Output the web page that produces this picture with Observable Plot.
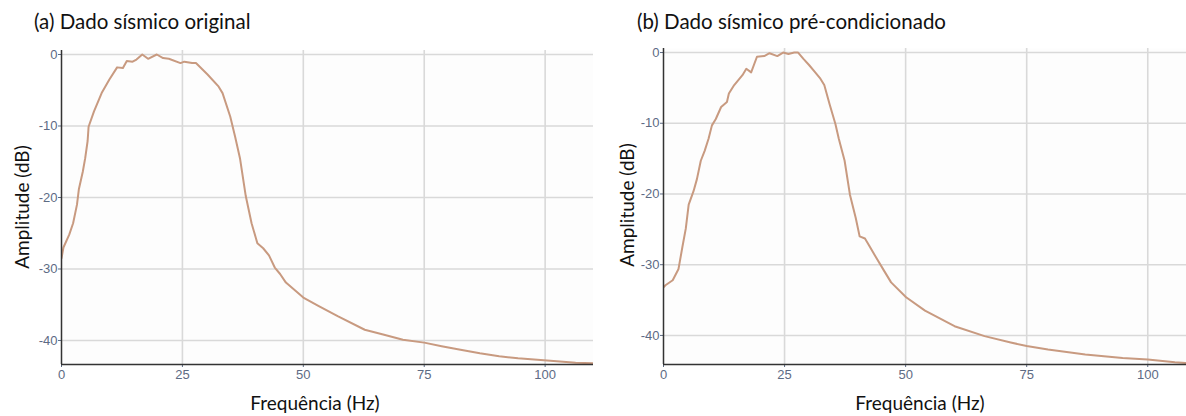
<!DOCTYPE html>
<html>
<head>
<meta charset="utf-8">
<script src="https://cdn.jsdelivr.net/npm/d3@7"></script>
<script src="https://cdn.jsdelivr.net/npm/@observablehq/plot@0.6"></script>
<style>
  html, body { margin: 0; padding: 0; background: #ffffff; }
  #wrap { position: relative; width: 1186px; height: 416px; overflow: hidden; background: #fff; }
  .panel { position: absolute; top: 0; }
  .title { position: absolute; font-family: Lato, "Open Sans", sans-serif; font-size: 20.5px; color: #111; white-space: nowrap; line-height: 1; }
  .ylab { position: absolute; font-family: Lato, "Open Sans", sans-serif; font-size: 19px; color: #111; white-space: nowrap; line-height: 1; transform: translate(-50%, -50%) rotate(-90deg); }
  .xlab { position: absolute; font-family: Lato, "Open Sans", sans-serif; font-size: 19px; color: #111; white-space: nowrap; line-height: 1; transform: translate(-50%, -50%); }
</style>
</head>
<body>
<div id="wrap">
  <div class="title" style="left:34px; top:11px;">(a) Dado sísmico original</div>
  <div class="title" style="left:637px; top:11px;">(b) Dado sísmico pré-condicionado</div>
  <div class="ylab" style="left:21px; top:207px;">Amplitude (dB)</div>
  <div class="ylab" style="left:626px; top:205px;">Amplitude (dB)</div>
  <div class="xlab" style="left:315px; top:402px;">Frequência (Hz)</div>
  <div class="xlab" style="left:920px; top:402px;">Frequência (Hz)</div>
  <div id="pa" class="panel" style="left:0px;"></div>
  <div id="pb" class="panel" style="left:600px;"></div>
</div>
<script>
// ---- data ----
const xTicks = [0, 25, 50, 75, 100];
const yTicks = [0, -10, -20, -30, -40];

// (a) original seismic data spectrum
const freqA = [0, 0.4, 1.6, 2.4, 3.2, 3.6, 4.4, 4.9, 5.4, 5.6, 6.7, 8.3, 9.9, 11.5, 12.7, 13.5, 14.7, 15.5, 16.7, 17.9, 19.7, 21, 22.2, 24.6, 25.4, 27, 27.8, 30.2, 32.5, 33.3, 34.9, 35.9, 36.9, 38.1, 39.3, 40.5, 41.7, 42.9, 44.1, 45.2, 46.4, 50, 53.2, 57.1, 62.7, 66.7, 70.6, 75, 78.6, 82.5, 86.5, 90.5, 94.4, 98.4, 102.4, 106.3, 110];
const ampA  = [-28.5, -27, -25.2, -23.6, -21, -18.8, -16.4, -14.5, -12.1, -10.1, -8, -5.4, -3.5, -1.8, -1.9, -0.9, -1.0, -0.7, 0, -0.6, 0, -0.5, -0.6, -1.2, -1.0, -1.2, -1.2, -2.8, -4.5, -5.4, -8.7, -11.5, -14.5, -19.8, -23.6, -26.4, -27.1, -28.1, -29.8, -30.7, -31.9, -34.0, -35.2, -36.6, -38.5, -39.2, -39.9, -40.3, -40.8, -41.3, -41.8, -42.2, -42.5, -42.7, -42.9, -43.1, -43.2];

// (b) pre-conditioned seismic data spectrum
const freqB = [0, 0.4, 1.9, 3.1, 3.9, 4.6, 5.2, 6.2, 6.9, 7.7, 8.5, 9.3, 10, 10.8, 11.9, 13.1, 13.5, 14.6, 16.3, 17.1, 18.1, 19.3, 20.8, 21.9, 23.5, 24.7, 25.8, 27, 27.8, 28.9, 30.1, 31.2, 32.4, 33.2, 34.3, 35.5, 36.2, 37.4, 38.5, 39.7, 40.5, 41.6, 42.4, 44, 45.5, 47, 50.1, 54, 60.1, 66.3, 71.7, 75, 79.4, 87.1, 94.8, 100, 105.6, 107.8];
const ampB  = [-33.2, -32.9, -32.2, -30.6, -27.5, -24.9, -21.5, -19.6, -17.9, -15.3, -13.9, -12.2, -10.3, -9.4, -7.7, -7.0, -5.8, -4.6, -3.2, -2.3, -2.8, -0.6, -0.5, -0.1, -0.5, 0, -0.2, 0, 0, -0.9, -1.8, -2.7, -3.7, -4.6, -7.3, -10.1, -12.2, -15.3, -20.1, -23.4, -26, -26.3, -27.2, -29.1, -30.8, -32.5, -34.6, -36.5, -38.7, -40.1, -41, -41.5, -42, -42.7, -43.2, -43.4, -43.8, -43.9];

// ---- drawing ----
const lineColor = "#c89a80";
const tickColor = "#5d6b84";

function panel(freq, amp, opts) {
  const rows = freq.map((f, i) => ({f, a: amp[i]}));
  return Plot.plot({
    width: opts.width,
    height: 384,
    marginLeft: opts.marginLeft,
    marginRight: 0,
    marginTop: opts.marginTop,
    marginBottom: 20,
    style: {background: "transparent", fontFamily: "'Liberation Sans Narrow', 'Liberation Sans', Arial, sans-serif", fontSize: "13px", color: tickColor},
    x: {domain: opts.xDomain, ticks: xTicks, tickSize: 3, tickPadding: 2, tickFormat: d => String(d), label: null},
    y: {domain: opts.yDomain, ticks: yTicks, tickSize: 3, tickPadding: 1, tickFormat: d => String(d), label: null},
    marks: [
      Plot.frame({fill: "#fdfdfd", stroke: null}),
      Plot.ruleX(xTicks.filter(d => d > 0), {stroke: "#d9d9d9", strokeWidth: 1.6}),
      Plot.ruleY(yTicks, {stroke: "#d9d9d9", strokeWidth: 1.6}),
      Plot.line(rows, {x: "f", y: "a", stroke: lineColor, strokeWidth: 2, clip: true}),
      Plot.ruleX([opts.xDomain[0]], {stroke: "#333", strokeWidth: 1.5}),
      Plot.ruleY([opts.yDomain[0]], {stroke: "#333", strokeWidth: 1.5})
    ]
  });
}

document.getElementById("pa").appendChild(panel(freqA, ampA, {
  width: 593, marginLeft: 61, marginTop: 50,
  xDomain: [0, 110], yDomain: [-43.36, 0.56]
}));
document.getElementById("pb").appendChild(panel(freqB, ampB, {
  width: 586, marginLeft: 63, marginTop: 48,
  xDomain: [0, 108], yDomain: [-44.11, 0.57]
}));
</script>
</body>
</html>
